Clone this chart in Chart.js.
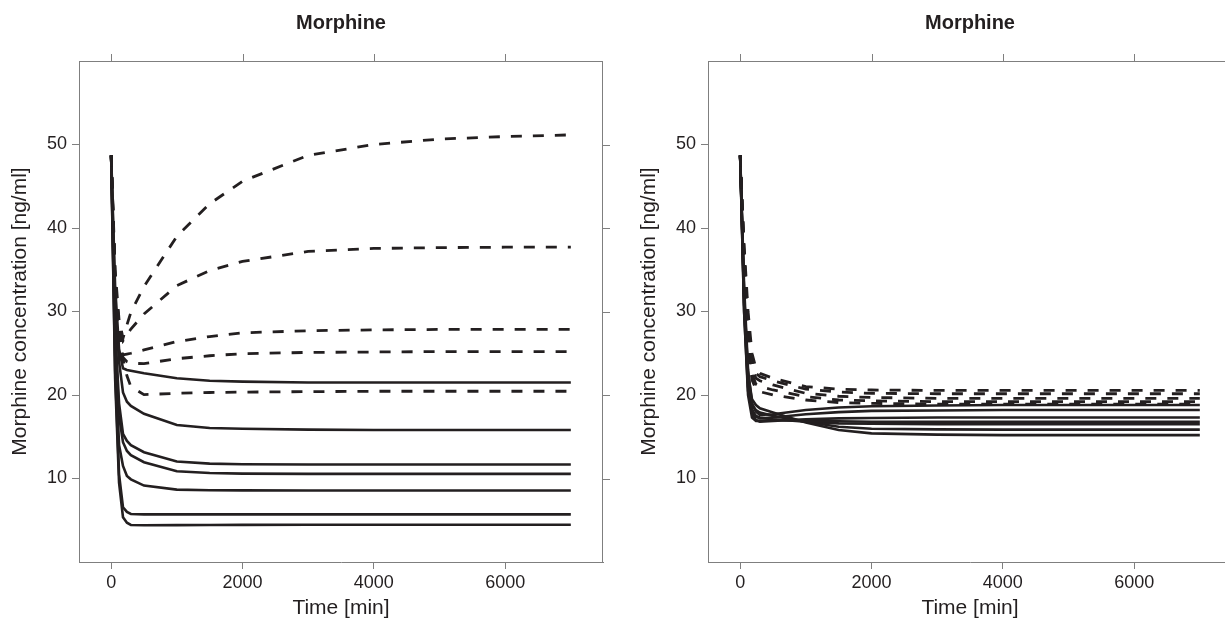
<!DOCTYPE html>
<html>
<head>
<meta charset="utf-8">
<script src="https://cdn.jsdelivr.net/npm/chart.js@4.4.1/dist/chart.umd.min.js"></script>
<style>
  html, body { margin: 0; padding: 0; background: #fff; overflow: hidden; width: 1225px; height: 622px; }
  #wrap { position: relative; width: 1225px; height: 622px; overflow: hidden; }
  canvas { position: absolute; top: 0; }
</style>
</head>
<body>
<div id="wrap">
  <canvas id="left" width="640" height="622" style="left:0px"></canvas>
  <canvas id="right" width="640" height="622" style="left:629px"></canvas>
</div>
<script>
// ---- data ----
const times = [0, 60, 120, 180, 240, 300, 500, 1000, 1500, 2000, 3000, 4000, 5000, 6000, 7000];
const xTickValues = [0, 2000, 4000, 6000];
const yTickValues = [10, 20, 30, 40, 50];
const panelTitle = "Morphine";
const xAxisTitle = "Time [min]";
const yAxisTitle = "Morphine concentration [ng/ml]";

// left panel, dashed series
const leftDashed1 = [48.7, 35, 29, 26.8, 28.4, 29.9, 33.0, 39.0, 42.9, 45.6, 48.7, 50.0, 50.65, 50.95, 51.15];
const leftDashed2 = [48.7, 34, 28, 26.5, 27.2, 27.9, 29.7, 33.1, 34.9, 36.0, 37.2, 37.55, 37.65, 37.7, 37.7];
const leftDashed3 = [48.7, 34, 28, 24.8, 24.9, 25.0, 25.4, 26.4, 27.0, 27.45, 27.7, 27.8, 27.85, 27.85, 27.85];
const leftDashed4 = [48.7, 33, 27, 24.5, 24.0, 23.8, 23.75, 24.35, 24.7, 24.95, 25.1, 25.15, 25.2, 25.2, 25.2];
const leftDashed5 = [48.7, 33, 26, 24.3, 22.3, 21.0, 20.05, 20.2, 20.3, 20.35, 20.4, 20.45, 20.45, 20.45, 20.45];
// left panel, solid series
const leftSolid1 = [48.7, 33, 25.5, 23.2, 23.0, 22.9, 22.6, 22.0, 21.7, 21.6, 21.5, 21.5, 21.5, 21.5, 21.5];
const leftSolid2 = [48.7, 31, 24, 20.3, 19.2, 18.7, 17.75, 16.4, 16.05, 15.95, 15.85, 15.8, 15.8, 15.8, 15.8];
const leftSolid3 = [48.7, 28, 19, 15.35, 14.5, 14.0, 13.15, 12.03, 11.78, 11.7, 11.67, 11.67, 11.67, 11.67, 11.67];
const leftSolid4 = [48.7, 27, 17.5, 14.35, 13.3, 12.8, 11.95, 10.87, 10.65, 10.58, 10.55, 10.55, 10.55, 10.55, 10.55];
const leftSolid5 = [48.7, 25, 14, 11.5, 10.3, 9.9, 9.15, 8.67, 8.6, 8.58, 8.57, 8.57, 8.57, 8.57, 8.57];
const leftSolid6 = [48.7, 23, 10.5, 6.55, 6.0, 5.75, 5.7, 5.7, 5.7, 5.7, 5.7, 5.7, 5.7, 5.7, 5.7];
const leftSolid7 = [48.7, 22, 9.5, 5.35, 4.7, 4.44, 4.4, 4.42, 4.44, 4.45, 4.46, 4.47, 4.47, 4.47, 4.47];

// right panel, dashed series
const rightDashed1 = [48.7, 38, 30, 25, 23.2, 22.6, 22.0, 21.0, 20.7, 20.6, 20.55, 20.55, 20.55, 20.55, 20.55];
const rightDashed2 = [48.7, 37, 29, 24, 22.6, 22.2, 21.7, 20.7, 20.35, 20.2, 20.15, 20.15, 20.15, 20.15, 20.15];
const rightDashed3 = [48.7, 36, 28, 23.3, 22.0, 21.7, 21.2, 20.2, 19.85, 19.7, 19.6, 19.6, 19.6, 19.6, 19.6];
const rightDashed4 = [48.7, 36, 27, 22.5, 21.3, 21.0, 20.6, 19.8, 19.4, 19.3, 19.2, 19.2, 19.2, 19.2, 19.2];
const rightDashed5 = [48.7, 35, 26, 21.8, 20.7, 20.4, 20.0, 19.4, 19.1, 19.0, 18.9, 18.9, 18.9, 18.9, 18.9];
// right panel, solid series
const rightSolid1 = [48.7, 33, 23, 19, 18.0, 17.6, 17.7, 18.2, 18.5, 18.65, 18.75, 18.8, 18.8, 18.8, 18.8];
const rightSolid2 = [48.7, 32, 22, 18.3, 17.4, 17.2, 17.3, 17.7, 17.95, 18.1, 18.15, 18.2, 18.2, 18.2, 18.2];
const rightSolid3 = [48.7, 31, 21, 17.8, 17.0, 16.8, 16.9, 17.1, 17.2, 17.25, 17.3, 17.3, 17.3, 17.3, 17.3];
const rightSolid4 = [48.7, 30, 20, 17.3, 16.9, 16.9, 17.0, 16.9, 16.85, 16.8, 16.8, 16.8, 16.8, 16.8, 16.8];
const rightSolid5 = [48.7, 30, 20.5, 18.0, 17.5, 17.3, 17.1, 16.8, 16.6, 16.55, 16.5, 16.5, 16.5, 16.5, 16.5];
const rightSolid6 = [48.7, 31, 21.5, 18.8, 18.2, 17.9, 17.5, 16.8, 16.2, 15.95, 15.88, 15.85, 15.85, 15.85, 15.85];
const rightSolid7 = [48.7, 32, 22.5, 19.5, 18.8, 18.4, 17.9, 16.7, 15.8, 15.4, 15.25, 15.2, 15.2, 15.2, 15.2];

const leftDashedList = [leftDashed1, leftDashed2, leftDashed3, leftDashed4, leftDashed5];
const leftSolidList = [leftSolid1, leftSolid2, leftSolid3, leftSolid4, leftSolid5, leftSolid6, leftSolid7];
const rightDashedList = [rightDashed1, rightDashed2, rightDashed3, rightDashed4, rightDashed5];
const rightSolidList = [rightSolid1, rightSolid2, rightSolid3, rightSolid4, rightSolid5, rightSolid6, rightSolid7];

// ---- styling ----
const LINE = '#231f20';
const FRAME = '#7f7f7f';
const TEXT = '#231f20';
const FONT = "'Liberation Sans', Arial, Helvetica, sans-serif";

function toPoints(values) { return values.map((v, i) => ({ x: times[i], y: v })); }

function makeDatasets(dashedList, solidList) {
  const ds = [];
  dashedList.forEach(arr => ds.push({
    data: toPoints(arr), borderColor: LINE, borderWidth: 2.8, borderDash: [11, 11],
    borderCapStyle: 'butt', pointRadius: 0, tension: 0, fill: false
  }));
  solidList.forEach(arr => ds.push({
    data: toPoints(arr), borderColor: LINE, borderWidth: 2.6,
    pointRadius: 0, tension: 0, fill: false
  }));
  return ds;
}

const framePlugin = {
  id: 'frame',
  afterDraw(chart) {
    const { ctx, chartArea: a, scales: { x, y } } = chart;
    ctx.save();
    ctx.strokeStyle = FRAME;
    ctx.lineWidth = 1;
    ctx.beginPath();
    ctx.moveTo(a.left, a.top + 0.5); ctx.lineTo(a.right, a.top + 0.5);
    ctx.moveTo(a.right - 0.5, a.top); ctx.lineTo(a.right - 0.5, a.bottom);
    x.ticks.forEach(t => {
      const px = Math.round(x.getPixelForValue(t.value)) + 0.5;
      ctx.moveTo(px, a.top); ctx.lineTo(px, a.top - 7);
    });
    y.ticks.forEach(t => {
      const py = Math.round(y.getPixelForValue(t.value)) + 0.5;
      ctx.moveTo(a.right, py); ctx.lineTo(a.right + 7, py);
    });
    ctx.stroke();
    // panel title, centred over the plotting region
    ctx.fillStyle = TEXT;
    ctx.font = "bold 20px " + FONT;
    ctx.textAlign = 'center';
    ctx.textBaseline = 'middle';
    ctx.fillText(panelTitle, (a.left + a.right) / 2, 23);
    ctx.restore();
  }
};

function makeChart(id, dashedList, solidList) {
  return new Chart(document.getElementById(id), {
    type: 'line',
    data: { datasets: makeDatasets(dashedList, solidList) },
    plugins: [framePlugin],
    options: {
      responsive: false,
      animation: false,
      devicePixelRatio: 1,
      layout: { padding: { top: 61, right: 37, bottom: 0, left: 0 } },
      plugins: {
        legend: { display: false },
        tooltip: { enabled: false },
        title: { display: false }
      },
      scales: {
        x: {
          type: 'linear', min: -490, max: 7490,
          afterBuildTicks: s => { s.ticks = xTickValues.map(v => ({ value: v })); },
          afterFit: s => { s.height = 60; },
          grid: { display: true, drawOnChartArea: false, drawTicks: true, tickLength: 7, color: FRAME, lineWidth: 1 },
          border: { display: true, color: FRAME, width: 1 },
          ticks: { color: TEXT, font: { family: FONT, size: 18 }, padding: 3, maxRotation: 0, autoSkip: false,
                   callback: v => String(v) },
          title: { display: true, text: xAxisTitle, color: TEXT, font: { family: FONT, size: 21, lineHeight: 1.2 },
                   padding: { top: 0, bottom: 1 } }
        },
        y: {
          type: 'linear', min: 0, max: 60,
          afterBuildTicks: s => { s.ticks = yTickValues.map(v => ({ value: v })); },
          afterFit: s => { s.width = 79; },
          grid: { display: true, drawOnChartArea: false, drawTicks: true, tickLength: 7, color: FRAME, lineWidth: 1 },
          border: { display: true, color: FRAME, width: 1 },
          ticks: { color: TEXT, font: { family: FONT, size: 18 }, padding: 5, autoSkip: false,
                   callback: v => String(v) },
          title: { display: true, text: yAxisTitle, color: TEXT, font: { family: FONT, size: 21, lineHeight: 1.2 },
                   padding: { top: 8, bottom: 0 } }
        }
      }
    }
  });
}

makeChart('left', leftDashedList, leftSolidList);
makeChart('right', rightDashedList, rightSolidList);
</script>
</body>
</html>
